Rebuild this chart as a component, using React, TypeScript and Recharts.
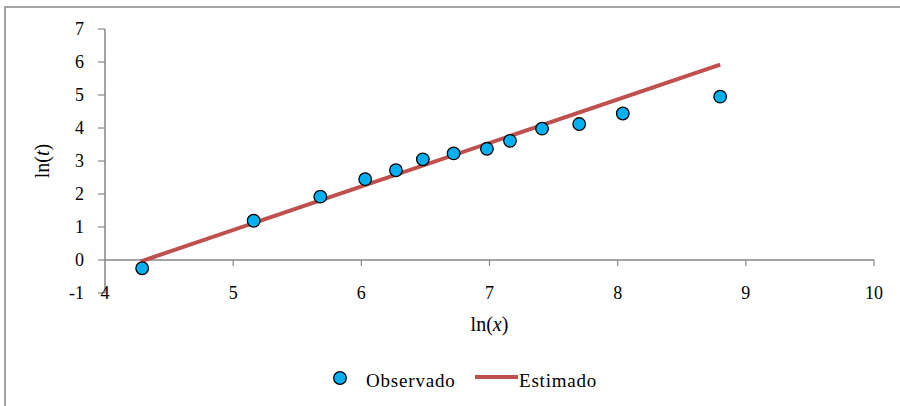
import {
  ScatterChart,
  Scatter,
  XAxis,
  YAxis,
  ReferenceLine,
  Legend,
} from 'recharts';

const obsX = [4.29, 5.16, 5.68, 6.03, 6.27, 6.48, 6.72, 6.98, 7.16, 7.41, 7.7, 8.04, 8.8];
const obsY = [-0.25, 1.19, 1.92, 2.45, 2.72, 3.05, 3.23, 3.37, 3.61, 3.98, 4.12, 4.44, 4.95];

// fitted line end points
const estX = [4.28, 8.8];
const estY = [-0.04, 5.92];

const xTicks = [4, 5, 6, 7, 8, 9, 10];
const yTicks = [-1, 0, 1, 2, 3, 4, 5, 6, 7];

const observado = obsX.map((x, i) => ({ x, y: obsY[i] }));
const estimado = estX.map((x, i) => ({ x, y: estY[i] }));

const FONT = '"Liberation Serif", "Times New Roman", serif';
const AXIS = '#868686';
const BLUE = '#00B0F0';
const RED = '#C0504D';

function Dot(props: any) {
  return <circle cx={props.cx} cy={props.cy} r={6.3} fill={BLUE} stroke="#000" strokeWidth={1.3} />;
}

function XTick(props: any) {
  return (
    <text x={props.x} y={props.y} dy="0.33em" textAnchor="middle" fontFamily={FONT} fontSize={18} fill="#000">
      {props.payload.value}
    </text>
  );
}

function XTitle(props: any) {
  const vb = props.viewBox;
  return (
    <text x={vb.x + vb.width / 2} y={vb.y + 38} textAnchor="middle" fontFamily={FONT} fontSize={20} fill="#000">
      ln(<tspan fontStyle="italic">x</tspan>)
    </text>
  );
}

function YTitle(props: any) {
  const vb = props.viewBox;
  const cx = vb.x + 49;
  const cy = vb.y + vb.height / 2;
  return (
    <text
      x={cx}
      y={cy}
      transform={`rotate(-90 ${cx} ${cy})`}
      textAnchor="middle"
      fontFamily={FONT}
      fontSize={20}
      fill="#000"
    >
      ln(<tspan fontStyle="italic">t</tspan>)
    </text>
  );
}

function LegendBox() {
  return (
    <svg width={874} height={50} style={{ display: 'block' }}>
      <circle cx={340} cy={35} r={6.3} fill={BLUE} stroke="#000" strokeWidth={1.3} />
      <text x={366} y={44} fontFamily={FONT} fontSize={19} letterSpacing={0.8} fill="#000">
        Observado
      </text>
      <line x1={475} y1={34} x2={518} y2={34} stroke={RED} strokeWidth={4} />
      <text x={519} y={44} fontFamily={FONT} fontSize={19} letterSpacing={0.8} fill="#000">
        Estimado
      </text>
    </svg>
  );
}

export default function App() {
  return (
    <div style={{ position: 'absolute', left: 0, top: 0, width: 900, height: 406, background: '#fff', overflow: 'hidden' }}>
      <div
        style={{
          position: 'absolute',
          left: 4,
          top: 6,
          width: 920,
          height: 420,
          borderLeft: '2px solid #a5a5a5',
          borderTop: '2px solid #a5a5a5',
        }}
      />
      <div style={{ position: 'absolute', left: 0, top: 0 }}>
        <ScatterChart width={900} height={406} margin={{ top: 29, right: 26, left: 0, bottom: 13 }}>
          <XAxis
            type="number"
            dataKey="x"
            domain={[4, 10]}
            ticks={xTicks}
            axisLine={false}
            tickLine={false}
            tickSize={0}
            tickMargin={0}
            height={50}
            tick={<XTick />}
            label={{ content: <XTitle /> }}
          />
          <YAxis
            type="number"
            dataKey="y"
            domain={[-1, 7]}
            ticks={yTicks}
            width={105}
            tickSize={7}
            tickMargin={14}
            axisLine={{ stroke: AXIS, strokeWidth: 1.5 }}
            tickLine={{ stroke: AXIS, strokeWidth: 1.2 }}
            tick={{ fontFamily: FONT, fontSize: 18, fill: '#000' }}
            label={{ content: <YTitle /> }}
          />
          <ReferenceLine y={0} stroke={AXIS} strokeWidth={1.5} />
          {xTicks.slice(1).map((t) => (
            <ReferenceLine
              key={t}
              segment={[
                { x: t, y: 0 },
                { x: t, y: -0.18 },
              ]}
              stroke={AXIS}
              strokeWidth={1.2}
            />
          ))}
          <Legend verticalAlign="bottom" height={50} content={<LegendBox />} />
          <Scatter
            name="Estimado"
            data={estimado}
            line={{ stroke: RED, strokeWidth: 4 }}
            shape={() => null}
            isAnimationActive={false}
          />
          <Scatter name="Observado" data={observado} shape={<Dot />} isAnimationActive={false} />
        </ScatterChart>
      </div>
    </div>
  );
}
